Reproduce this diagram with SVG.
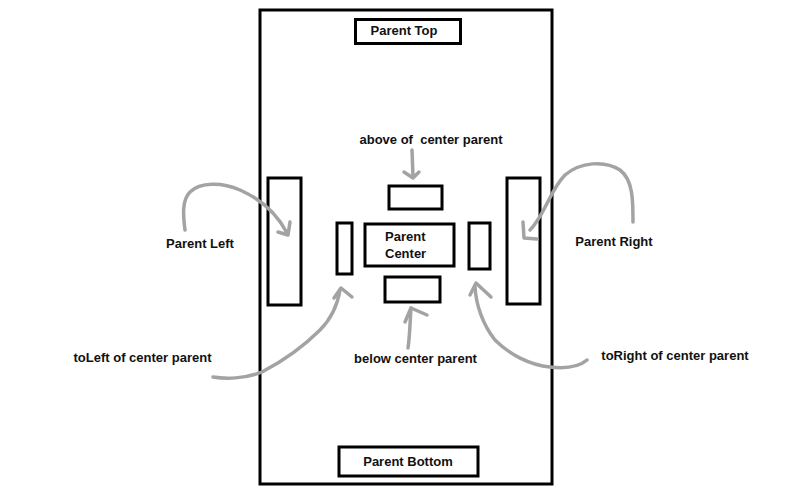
<svg xmlns="http://www.w3.org/2000/svg" width="801" height="501" viewBox="0 0 801 501">
<style>
.box{fill:none;stroke:#000;stroke-width:3}
.lbl{font-family:"Liberation Sans",Arial,sans-serif;font-weight:bold;font-size:13px;fill:#111;text-anchor:middle}
.arr{fill:none;stroke:#a3a3a3;stroke-width:3.5;stroke-linecap:round;stroke-linejoin:round}
</style>
<rect width="801" height="501" fill="#fff"/>
<g id="parent">
<rect class="box" x="260" y="10" width="292" height="474"/>
</g>
<g id="parent-top">
<rect class="box" x="355.5" y="19.5" width="105" height="24"/>
<text class="lbl" x="404" y="35">Parent Top</text>
</g>
<g id="parent-bottom">
<rect class="box" x="339" y="447" width="139" height="29"/>
<text class="lbl" x="408" y="466">Parent Bottom</text>
</g>
<g id="parent-left">
<rect class="box" x="268" y="178" width="33" height="127"/>
<text class="lbl" x="200" y="248">Parent Left</text>
</g>
<g id="parent-right">
<rect class="box" x="507" y="178" width="33" height="126"/>
<text class="lbl" x="614" y="246">Parent Right</text>
</g>
<g id="parent-center">
<rect class="box" x="365" y="224" width="89" height="42"/>
<text class="lbl" x="385" y="241" style="text-anchor:start">Parent</text>
<text class="lbl" x="385" y="258" style="text-anchor:start">Center</text>
</g>
<g id="above">
<rect class="box" x="389" y="186" width="53" height="23"/>
<text class="lbl" x="431" y="144" xml:space="preserve">above of  center parent</text>
</g>
<g id="below">
<rect class="box" x="385" y="277" width="55" height="25"/>
<text class="lbl" x="415.5" y="363">below center parent</text>
</g>
<g id="to-left">
<rect class="box" x="337" y="223" width="15" height="51"/>
<text class="lbl" x="142.5" y="362">toLeft of center parent</text>
</g>
<g id="to-right">
<rect class="box" x="469" y="223" width="21" height="46"/>
<text class="lbl" x="675" y="360">toRight of center parent</text>
</g>
<g id="connectors">
<path class="arr" d="M185,230 C183,215 182,200 190,192 C200,182 222,182 240,190 C258,198 275,210 287,233"/>
<path class="arr" d="M278,232 L288,235 L290,222"/>
<path class="arr" d="M633,222 C633,200 633,180 620,170 C605,160 580,162 565,175 C550,190 545,215 530,230"/>
<path class="arr" d="M523,222 L524,238 L537,239"/>
<path class="arr" d="M412,150 L413,177"/>
<path class="arr" d="M404,172 L413,178 L419,172"/>
<path class="arr" d="M213,377 C225,379 245,379 262,372 C285,360 305,345 320,330 C332,318 338,302 340,290"/>
<path class="arr" d="M334,298 L341,288 L352,297"/>
<path class="arr" d="M408,348 C410,335 410,320 411,308"/>
<path class="arr" d="M405,322 L411,308 L427,315"/>
<path class="arr" d="M587,360 C580,366 568,369 550,367 C530,365 510,355 495,340 C483,325 476,305 475,287"/>
<path class="arr" d="M470,295 L476,283 L491,297"/>
</g>
</svg>
